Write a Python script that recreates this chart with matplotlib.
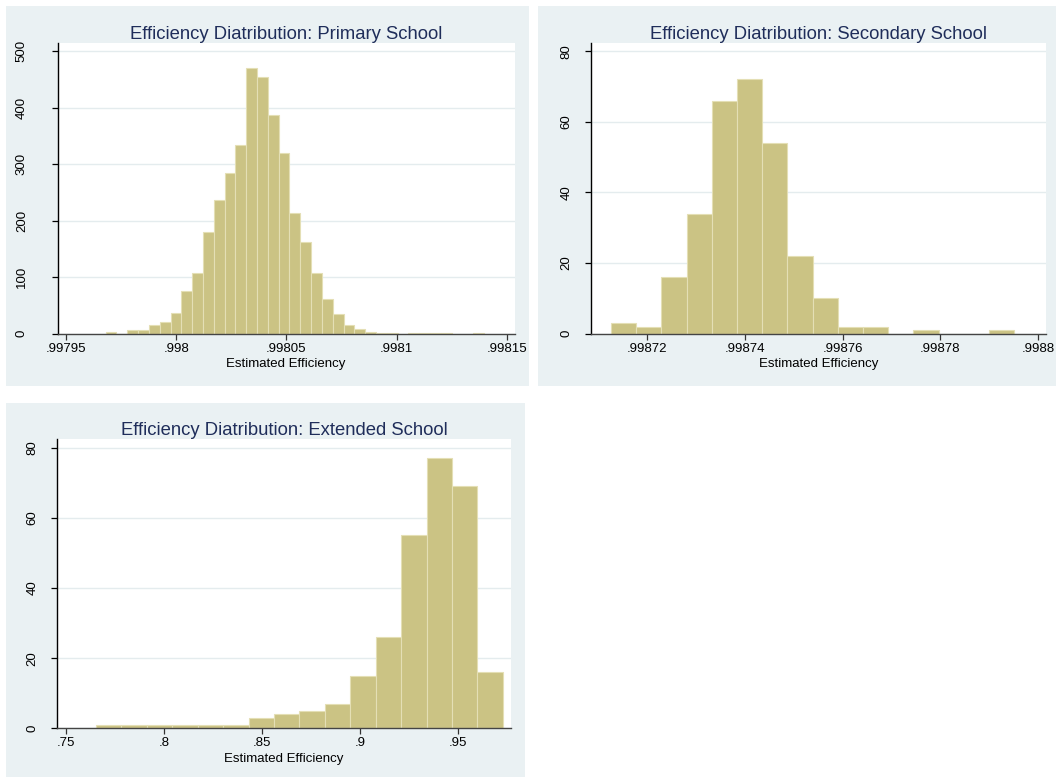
import numpy as np
import matplotlib
matplotlib.use("Agg")
import matplotlib.pyplot as plt
from matplotlib.patches import Rectangle

plt.rcParams['font.family'] = ['Liberation Sans', 'DejaVu Sans']

# ---------------- data ----------------
primary_counts = [3, 0, 6, 7, 15, 21, 37, 76, 108, 180, 236, 285, 334, 470, 454,
                  387, 320, 214, 163, 108, 61, 35, 15, 9, 3, 2, 2, 0, 1, 1, 1, 1,
                  0, 0, 1]
primary_range = [0.997968, 0.9981397]
primary_xticks = [0.99795, 0.998, 0.99805, 0.9981, 0.99815]
primary_xticklabels = ['.99795', '.998', '.99805', '.9981', '.99815']
primary_yticks = [0, 100, 200, 300, 400, 500]

secondary_counts = [3, 2, 16, 34, 66, 72, 54, 22, 10, 2, 2, 0, 1, 0, 0, 1]
secondary_range = [0.9987127, 0.9987951]
secondary_xticks = [0.99872, 0.99874, 0.99876, 0.99878, 0.9988]
secondary_xticklabels = ['.99872', '.99874', '.99876', '.99878', '.9988']
secondary_yticks = [0, 20, 40, 60, 80]

extended_counts = [1, 1, 1, 1, 1, 1, 3, 4, 5, 7, 15, 26, 55, 77, 69, 16]
extended_range = [0.76517, 0.97276]
extended_xticks = [0.75, 0.8, 0.85, 0.9, 0.95]
extended_xticklabels = ['.75', '.8', '.85', '.9', '.95']
extended_yticks = [0, 20, 40, 60, 80]

titles = ['Efficiency Diatribution: Primary School',
          'Efficiency Diatribution: Secondary School',
          'Efficiency Diatribution: Extended School']
xlabel = 'Estimated Efficiency'

# ---------------- layout ----------------
W, H = 1056, 778
fig = plt.figure(figsize=(W / 100, H / 100), dpi=100)
fig.patch.set_facecolor('white')

PANEL_BG = '#EAF1F3'
BAR_FILL = '#CBC384'
BAR_EDGE = '#E4DFB5'
GRID = '#E4ECEE'
TITLE_C = '#1F2D5A'


def panel(x0, y0, x1, y1):
    fig.patches.append(Rectangle((x0 / W, 1 - y1 / H), (x1 - x0) / W, (y1 - y0) / H,
                                 transform=fig.transFigure, facecolor=PANEL_BG,
                                 edgecolor='none', zorder=-10))


def make_ax(x0, y0, x1, y1):
    return fig.add_axes([x0 / W, 1 - y1 / H, (x1 - x0) / W, (y1 - y0) / H])


panel(6, 6, 529, 386)
panel(538, 6, 1056, 386)
panel(6, 403, 525, 777)

specs = [
    dict(rect=(57.7, 42.7, 514.5, 333.7), counts=primary_counts, rng=primary_range,
         xlim=(0.99794623, 0.9981535), ylim=(0, 515), xt=primary_xticks,
         xtl=primary_xticklabels, yt=primary_yticks, ypad=17, title=titles[0]),
    dict(rect=(590.5, 42.7, 1046, 333.7), counts=secondary_counts, rng=secondary_range,
         xlim=(0.99870852, 0.99880157), ylim=(0, 82.4), xt=secondary_xticks,
         xtl=secondary_xticklabels, yt=secondary_yticks, ypad=8.5, title=titles[1]),
    dict(rect=(57.2, 439.3, 511, 728.3), counts=extended_counts, rng=extended_range,
         xlim=(0.74536, 0.97689), ylim=(0, 82.4), xt=extended_xticks,
         xtl=extended_xticklabels, yt=extended_yticks, ypad=9, title=titles[2]),
]

for s in specs:
    ax = make_ax(*s['rect'])
    ax.set_facecolor('white')
    counts = np.array(s['counts'], dtype=float)
    edges = np.linspace(s['rng'][0], s['rng'][1], len(counts) + 1)
    ax.bar(edges[:-1], counts, width=np.diff(edges), align='edge',
           color=BAR_FILL, edgecolor=BAR_EDGE, linewidth=0.8, zorder=2)
    ax.set_xlim(*s['xlim'])
    ax.set_ylim(*s['ylim'])
    ax.set_xticks(s['xt'])
    ax.set_xticklabels(s['xtl'])
    ax.set_yticks(s['yt'])
    ax.set_yticklabels([str(v) for v in s['yt']], rotation=90, va='center')
    ax.yaxis.grid(True, color=GRID, linewidth=1.0, zorder=0)
    ax.set_axisbelow(True)
    for sp in ['top', 'right']:
        ax.spines[sp].set_visible(False)
    ax.spines['left'].set_color('black')
    ax.spines['left'].set_linewidth(1.0)
    ax.spines['bottom'].set_color('#444444')
    ax.spines['bottom'].set_linewidth(1.0)
    ax.spines['bottom'].set_zorder(3)
    ax.tick_params(axis='x', length=4.5, width=0.9, color='#333333', pad=2,
                   labelsize=9.5, labelcolor='black')
    ax.tick_params(axis='y', length=4.5, width=0.9, color='black', pad=s['ypad'],
                   labelsize=9.5, labelcolor='black')
    ax.set_xlabel(xlabel, fontsize=9.5, labelpad=2.5, color='black')
    ax.set_title(s['title'], fontsize=13.3, color=TITLE_C, pad=3)

fig.savefig('out.png', dpi=100, facecolor='white')
